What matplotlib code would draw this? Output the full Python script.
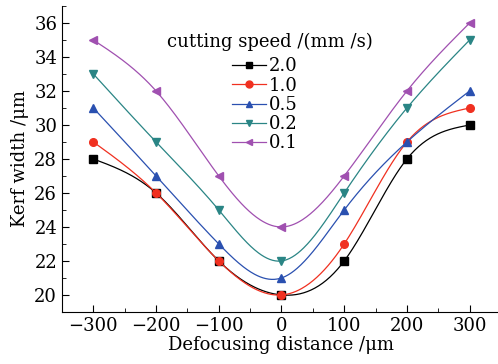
import numpy as np
import matplotlib
matplotlib.use("Agg")
import matplotlib.pyplot as plt
from matplotlib.ticker import MultipleLocator

x = [-300, -200, -100, 0, 100, 200, 300]
speeds = ["2.0", "1.0", "0.5", "0.2", "0.1"]
v20 = [28, 26, 22, 20, 22, 28, 30]
v10 = [29, 26, 22, 20, 23, 29, 31]
v05 = [31, 27, 23, 21, 25, 29, 32]
v02 = [33, 29, 25, 22, 26, 31, 35]
v01 = [35, 32, 27, 24, 27, 32, 36]
series = [v20, v10, v05, v02, v01]
colors = ["#000000", "#f03020", "#2a50b0", "#2a8585", "#a050b0"]
markers = ["s", "o", "^", "v", "<"]


def natural_spline(xs, ys, xq):
    xs = np.asarray(xs, float); ys = np.asarray(ys, float)
    n = len(xs)
    h = np.diff(xs)
    A = np.zeros((n, n)); b = np.zeros(n)
    A[0, 0] = 1; A[-1, -1] = 1
    for i in range(1, n - 1):
        A[i, i - 1] = h[i - 1]
        A[i, i] = 2 * (h[i - 1] + h[i])
        A[i, i + 1] = h[i]
        b[i] = 3 * ((ys[i + 1] - ys[i]) / h[i] - (ys[i] - ys[i - 1]) / h[i - 1])
    c = np.linalg.solve(A, b)
    bb = np.zeros(n - 1); d = np.zeros(n - 1)
    for i in range(n - 1):
        bb[i] = (ys[i + 1] - ys[i]) / h[i] - h[i] * (2 * c[i] + c[i + 1]) / 3
        d[i] = (c[i + 1] - c[i]) / (3 * h[i])
    idx = np.clip(np.searchsorted(xs, xq) - 1, 0, n - 2)
    dx = xq - xs[idx]
    return ys[idx] + bb[idx] * dx + c[idx] * dx ** 2 + d[idx] * dx ** 3


plt.rcParams['font.family'] = ['DejaVu Serif']
fig = plt.figure(figsize=(4.98, 3.64), dpi=100)
ax = fig.add_axes([0.1245, 0.143, 0.8815, 0.8405])

xf = np.linspace(-300, 300, 400)
for s, ys, c, m in zip(speeds, series, colors, markers):
    ax.plot(xf, natural_spline(x, ys, xf), color=c, lw=0.9)
    ax.plot(x, ys, linestyle='none', marker=m, color=c, ms=5.5)
    ax.plot([], [], color=c, marker=m, ms=5, lw=0.9, label=s)

ax.set_xlim(-350, 350)
ax.set_ylim(19, 37)
ax.xaxis.set_major_locator(MultipleLocator(100))
ax.xaxis.set_minor_locator(MultipleLocator(50))
ax.yaxis.set_major_locator(MultipleLocator(2))
ax.yaxis.set_minor_locator(MultipleLocator(1))
ax.tick_params(which='both', direction='in', labelsize=13)
ax.tick_params(which='major', length=5)
ax.tick_params(which='minor', length=3)
ax.spines['top'].set_visible(False)
ax.spines['right'].set_visible(False)
ax.set_xticks([-300, -200, -100, 0, 100, 200, 300])
ax.set_xticklabels(["\u2212300", "\u2212200", "\u2212100", "0", "100", "200", "300"])
ax.set_xlabel("Defocusing distance /\u03bcm", fontsize=13, labelpad=1)
ax.set_ylabel("Kerf width /\u03bcm", fontsize=13, labelpad=4)

ax.text(0.474, 0.882, "cutting speed /(mm /s)", transform=ax.transAxes,
        ha='center', va='center', fontsize=13)
leg = ax.legend(loc='upper center',
                bbox_to_anchor=(0.462, 0.832), frameon=False, fontsize=13,
                handlelength=1.9, handletextpad=0.15,
                labelspacing=0.07, borderpad=0.0, borderaxespad=0.0)

fig.savefig("out.png", dpi=100)
